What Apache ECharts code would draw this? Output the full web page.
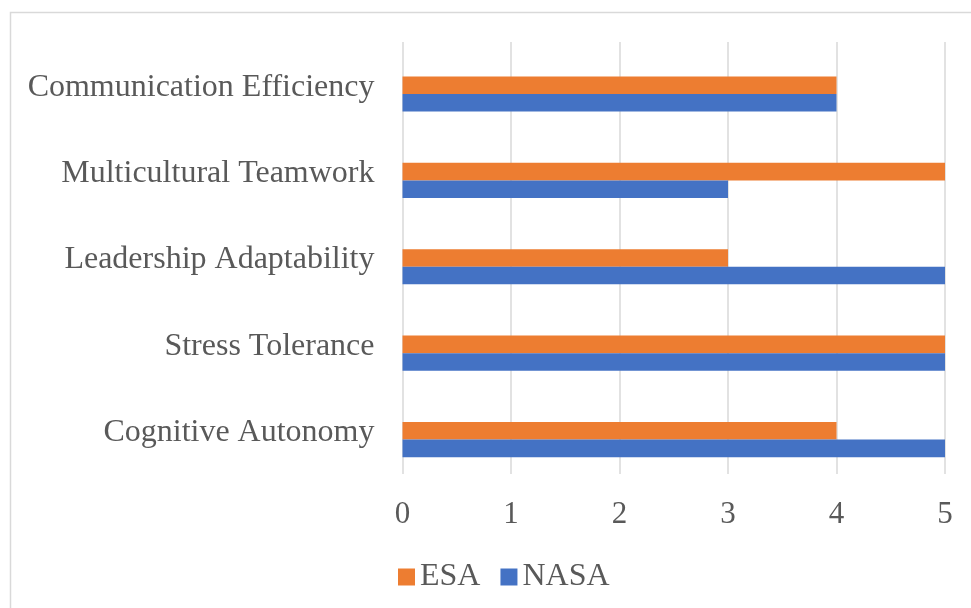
<!DOCTYPE html>
<html>
<head>
<meta charset="utf-8">
<script src="https://cdn.jsdelivr.net/npm/echarts@6/dist/echarts.min.js"></script>
<style>
html,body{margin:0;padding:0;background:#fff;}
#chart{width:971px;height:608px;}
</style>
</head>
<body>
<div id="chart"></div>
<script>
const categories = ['Cognitive Autonomy', 'Stress Tolerance', 'Leadership Adaptability', 'Multicultural Teamwork', 'Communication Efficiency'];
const esaValues = [4, 5, 3, 5, 4];
const nasaValues = [5, 5, 5, 3, 4];
const xTicks = [0, 1, 2, 3, 4, 5];

const FONT = "'Liberation Serif', 'Times New Roman', serif";
const TEXT = '#595959';
const chart = echarts.init(document.getElementById('chart'), null, {renderer: 'canvas'});
chart.setOption({
  animation: false,
  backgroundColor: '#ffffff',
  textStyle: {fontFamily: FONT, color: TEXT},
  graphic: [{
    type: 'rect',
    shape: {x: 10.5, y: 12.5, width: 1000, height: 700},
    style: {fill: 'none', stroke: '#d9d9d9', lineWidth: 1.5},
    silent: true
  }],
  grid: {left: 402.5, right: 26, top: 42, bottom: 134},
  legend: {
    data: ['ESA', 'NASA'],
    left: 393, top: 556,
    icon: 'rect', itemWidth: 17, itemHeight: 17, itemGap: 20,
    textStyle: {fontFamily: FONT, fontSize: 32, color: TEXT}
  },
  xAxis: {
    type: 'value', min: xTicks[0], max: xTicks[xTicks.length - 1], interval: 1,
    axisLine: {show: false}, axisTick: {show: false},
    splitLine: {show: true, lineStyle: {color: '#d9d9d9', width: 1.5}},
    axisLabel: {fontFamily: FONT, fontSize: 31, color: TEXT, margin: 25}
  },
  yAxis: {
    type: 'category', data: categories,
    axisLine: {show: false}, axisTick: {show: false},
    axisLabel: {
      margin: 28,
      formatter: '{a|{value}}',
      rich: {a: {fontFamily: FONT, fontSize: 32, color: TEXT, padding: [4, 0, 0, 0]}}
    }
  },
  series: [
    {name: '', type: 'bar', data: [], barGap: 0, barCategoryGap: '39%', silent: true},
    {name: 'ESA', type: 'bar', data: esaValues, barGap: 0, barCategoryGap: '39%', itemStyle: {color: '#ED7D31'}},
    {name: 'NASA', type: 'bar', data: nasaValues, barGap: 0, barCategoryGap: '39%', itemStyle: {color: '#4472C4'}}
  ]
});
</script>
</body>
</html>
